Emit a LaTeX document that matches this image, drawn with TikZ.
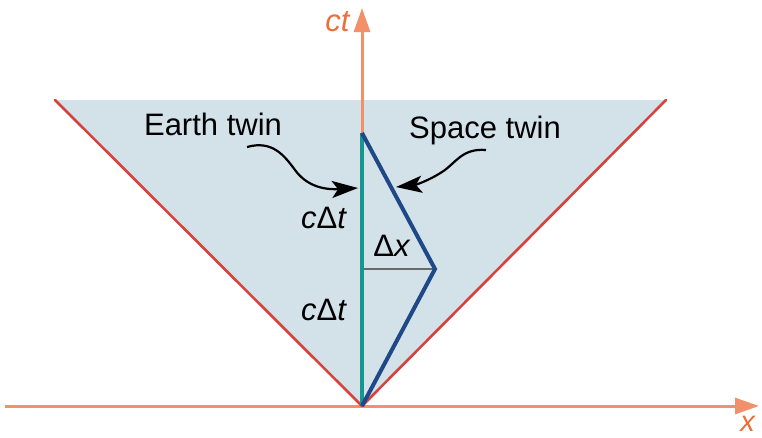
\documentclass[tikz,border=0pt]{standalone}
\usepackage{fontspec}
\setmainfont{Liberation Sans}
\usetikzlibrary{arrows.meta}
\definecolor{lightfill}{RGB}{211,225,233}
\definecolor{conered}{RGB}{214,66,62}
\definecolor{axisor}{RGB}{242,145,105}
\definecolor{labelor}{RGB}{234,112,58}
\definecolor{earthteal}{RGB}{22,150,145}
\definecolor{spaceblue}{RGB}{30,72,135}
\definecolor{dxgray}{RGB}{105,105,105}
\begin{document}
\begin{tikzpicture}[x=1pt,y=-1pt,
  lbl/.style={inner sep=0pt,font=\fontsize{31}{36}\selectfont},
  axisline/.style={axisor,line width=3pt,-{Triangle[length=24pt,width=16pt]}},
  pointer/.style={black,line width=2.2pt,-{Stealth[length=26pt,width=17pt,inset=6pt]}},
  cone/.style={conered,line width=2.6pt,line cap=round}]
\useasboundingbox (0,0) rectangle (762,437);
% key coordinates
\coordinate (O) at (362,406);
\coordinate (TL) at (55,100);
\coordinate (TR) at (666,100);
\coordinate (E) at (362,133);
\coordinate (T) at (435,269);
\coordinate (M) at (362,269);
\coordinate (XL) at (5,406);
\coordinate (XR) at (759,406);
\coordinate (CT) at (362,8);
% light cone region
\fill[lightfill] (O) -- (TL) -- (TR) -- cycle;
% axes
\draw[axisline] (XL) -- (XR);
\draw[axisline] (O) -- (CT);
% light cone edges
\draw[cone] (O) -- (TL);
\draw[cone] (O) -- (TR);
% world lines
\draw[dxgray,line width=2.5pt] (M) -- (T);
\draw[earthteal,line width=4pt] (O) -- (E);
\draw[spaceblue,line width=4pt,line join=miter] (O) -- (T) -- (E);
% labels
\node[lbl,text=labelor] (ctlab) at (338,22) {\textit{ct}};
\node[lbl,text=labelor,font=\fontsize{29}{34}\selectfont] (xlab) at (748,424) {\textit{x}};
\node[lbl] (earth) at (213,124) {Earth twin};
\node[lbl] (space) at (485,130) {Space twin};
\node[lbl] (cdt1) at (324,218) {\textit{c}Δ\textit{t}};
\node[lbl] (cdt2) at (324,310) {\textit{c}Δ\textit{t}};
\node[lbl] (dx) at (392,246) {Δ\textit{x}};
% pointers
\coordinate (ea) at (247,147);
\coordinate (eb) at (358,188);
\coordinate (sa) at (486,150);
\coordinate (sb) at (396,187);
\draw[pointer] (ea) .. controls (272,140) and (284,155) .. (295,170) .. controls (306,185) and (322,190) .. (eb);
\draw[pointer] (sa) .. controls (462,148) and (456,163) .. (442,172) .. controls (428,181) and (415,185) .. (sb);
\end{tikzpicture}
\end{document}
